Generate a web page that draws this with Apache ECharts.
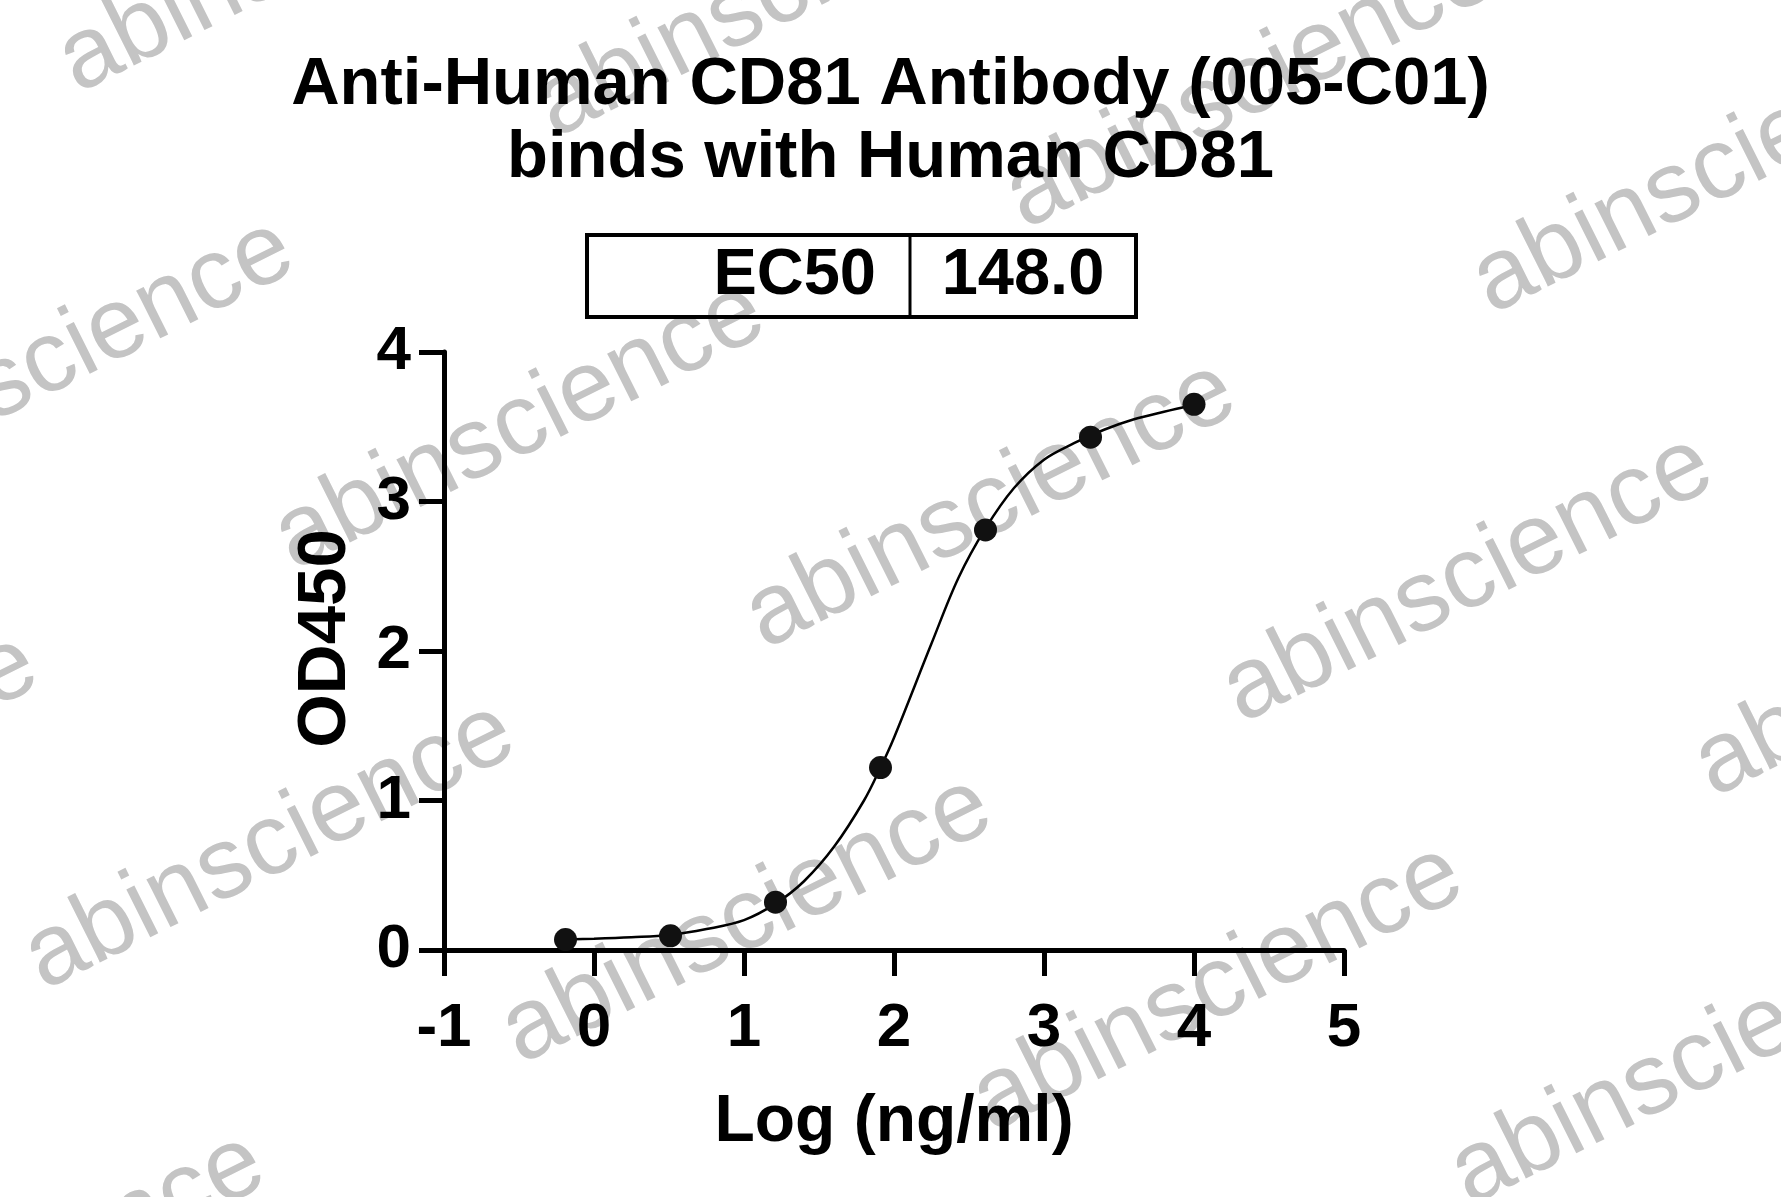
<!DOCTYPE html>
<html>
<head>
<meta charset="utf-8">
<script src="https://cdn.jsdelivr.net/npm/echarts@6/dist/echarts.min.js"></script>
<style>
html,body{margin:0;padding:0;background:#fff;}
#chart{width:1781px;height:1197px;}
</style>
</head>
<body>
<div id="chart"></div>
<script>
// ---- data ----
const titleLines = ['Anti-Human CD81 Antibody (005-C01)', 'binds with Human CD81'];
const tableLabel = 'EC50';
const tableValue = '148.0';
const xAxisName = 'Log (ng/ml)';
const yAxisName = 'OD450';
const xTicks = [-1, 0, 1, 2, 3, 4, 5];
const yTicks = [0, 1, 2, 3, 4];
// measured points
const doseLog = [-0.19, 0.51, 1.21, 1.91, 2.61, 3.31, 4.00];
const od450   = [0.07, 0.095, 0.32, 1.22, 2.81, 3.43, 3.65];
// fitted curve
const curveX = [-0.19, 0.0, 0.25, 0.5, 0.75, 1.0, 1.21, 1.4, 1.6, 1.8, 1.91, 2.0, 2.25, 2.43, 2.61, 2.8, 3.0, 3.2, 3.4, 3.6, 3.8, 4.0];
const curveY = [0.07, 0.075, 0.085, 0.10, 0.14, 0.20, 0.31, 0.46, 0.69, 1.00, 1.22, 1.42, 2.05, 2.49, 2.82, 3.09, 3.28, 3.39, 3.48, 3.55, 3.60, 3.645];
const watermarkText = 'abinscience';

// ---- layout (not data) ----
const wmShift = [20, 34];
const wmPos = [
  [68,80],[545,125],[1015,216],[1482,301],
  [-187,494],[284,557],[755,636],[1232,710],[1704,784],
  [-443,909],[34,977],[511,1051],[982,1119],[1460,1193],
  [-216,1408]
];
const FONT = '"Liberation Sans", Arial, Helvetica, sans-serif';

const chart = echarts.init(document.getElementById('chart'), null, {renderer: 'canvas'});

const wmElements = wmPos.map(p => ({
  type: 'text',
  x: p[0] + wmShift[0], y: p[1] + wmShift[1],
  rotation: 0.465,
  z: -10,
  silent: true,
  style: {
    text: watermarkText,
    x: 0, y: 0,
    fill: '#c4c4c4',
    font: '101px ' + FONT,
    align: 'left',
    verticalAlign: 'bottom'
  }
}));

const tableElements = [
  {type: 'rect', z: 10, shape: {x: 587, y: 235, width: 549, height: 82},
   style: {fill: 'transparent', stroke: '#000', lineWidth: 4}},
  {type: 'line', z: 10, shape: {x1: 910, y1: 235, x2: 910, y2: 317},
   style: {stroke: '#000', lineWidth: 3}},
  {type: 'text', z: 10, x: 876, y: 276,
   style: {text: tableLabel, fill: '#000', font: 'bold 65px ' + FONT, align: 'right', verticalAlign: 'middle'}},
  {type: 'text', z: 10, x: 1023, y: 276,
   style: {text: tableValue, fill: '#000', font: 'bold 65px ' + FONT, align: 'center', verticalAlign: 'middle'}}
];

const option = {
  backgroundColor: '#fff',
  animation: false,
  title: {
    text: titleLines.join('\n'),
    left: 'center',
    top: 44,
    textStyle: {fontFamily: FONT, fontWeight: 'bold', fontSize: 67, lineHeight: 73, color: '#000'}
  },
  graphic: {elements: wmElements.concat(tableElements)},
  grid: {left: 444, right: 437, top: 352, bottom: 247, containLabel: false},
  xAxis: {
    type: 'value', min: xTicks[0], max: xTicks[xTicks.length - 1], interval: 1,
    name: xAxisName, nameLocation: 'middle', nameGap: 140,
    nameTextStyle: {fontFamily: FONT, fontWeight: 'bold', fontSize: 66, color: '#000'},
    axisLine: {onZero: false, lineStyle: {color: '#000', width: 5}},
    axisTick: {show: true, length: 26, lineStyle: {color: '#000', width: 5}},
    axisLabel: {margin: 48, fontFamily: FONT, fontWeight: 'bold', fontSize: 62, color: '#000'},
    splitLine: {show: false}
  },
  yAxis: {
    type: 'value', min: yTicks[0], max: yTicks[yTicks.length - 1], interval: 1,
    name: yAxisName, nameLocation: 'middle', nameGap: 84, nameRotate: 90,
    nameTextStyle: {fontFamily: FONT, fontWeight: 'bold', fontSize: 69, color: '#000', padding: [0, 0, 0, 25]},
    axisLine: {show: true, onZero: false, lineStyle: {color: '#000', width: 5}},
    axisTick: {show: true, length: 25, lineStyle: {color: '#000', width: 5}},
    axisLabel: {margin: 33, fontFamily: FONT, fontWeight: 'bold', fontSize: 62, color: '#000'},
    splitLine: {show: false}
  },
  series: [
    {
      type: 'line', name: 'fit',
      data: curveX.map((x, i) => [x, curveY[i]]),
      smooth: 0.35, showSymbol: false, symbol: 'none',
      lineStyle: {color: '#000', width: 2.5},
      z: 3
    },
    {
      type: 'scatter', name: 'data',
      data: doseLog.map((x, i) => [x, od450[i]]),
      symbol: 'circle', symbolSize: 23,
      itemStyle: {color: '#111', opacity: 1},
      z: 4
    }
  ]
};
chart.setOption(option);
</script>
</body>
</html>
